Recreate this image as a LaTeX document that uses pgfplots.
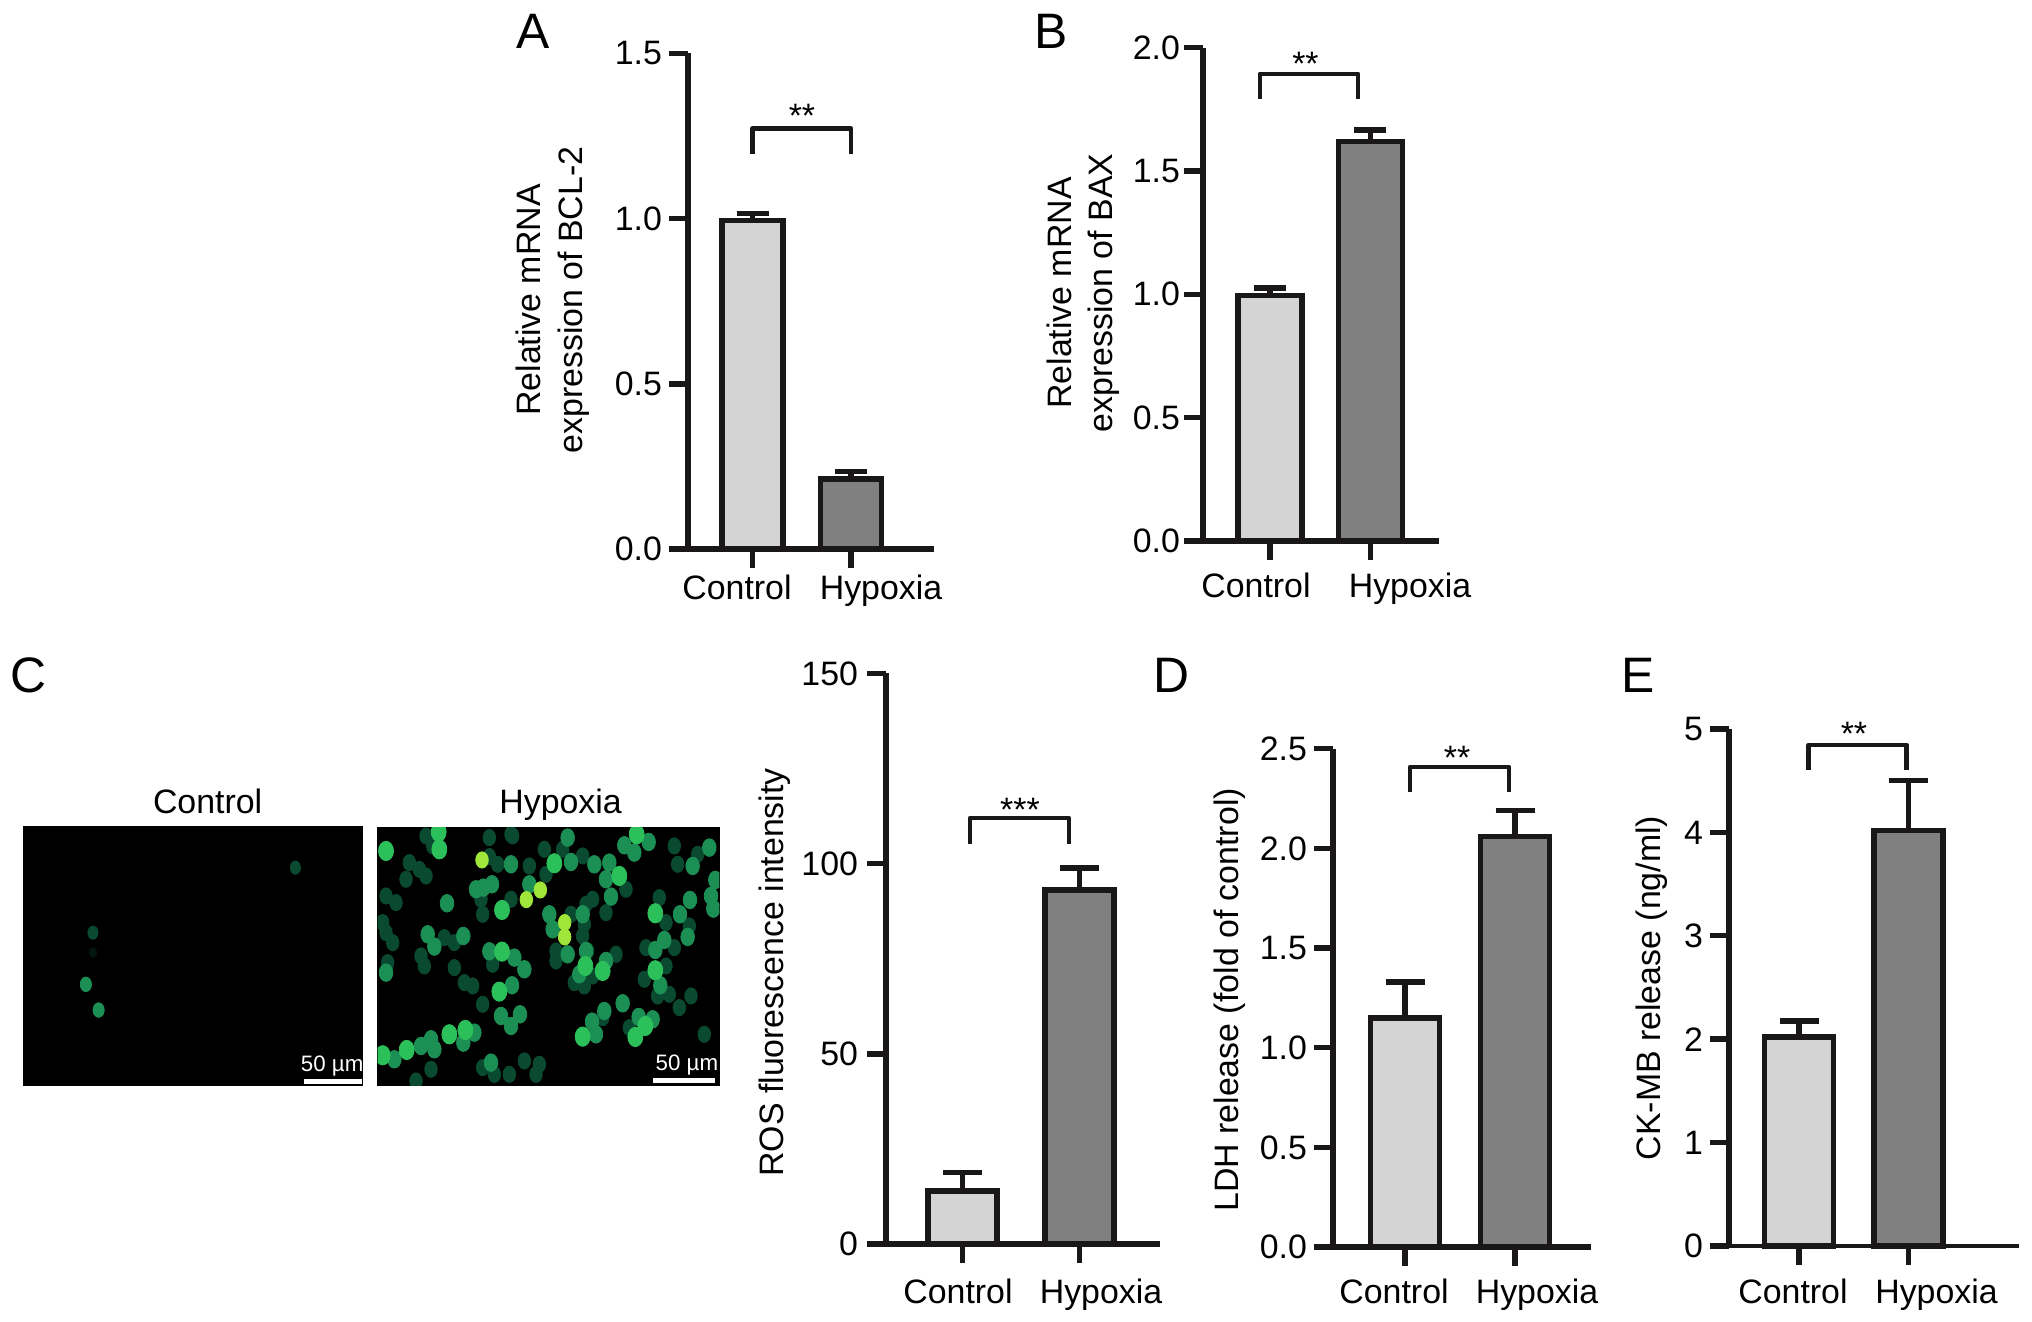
\documentclass[border=0pt]{standalone}
\usepackage{pgfplots}
\pgfplotsset{compat=1.18}
\usepackage{fontspec}
\setmainfont{Liberation Sans}
\definecolor{ink}{HTML}{1A1718}
\definecolor{cl}{HTML}{D4D4D4}
\definecolor{cd}{HTML}{808080}
\definecolor{gdim}{HTML}{0A4A30}
\definecolor{gmed}{HTML}{1C8F55}
\definecolor{gbri}{HTML}{2CC05A}
\definecolor{gyel}{HTML}{9FE53A}
\newcommand\fs{\fontsize{17}{20.7}\selectfont}
\newcommand\sh[2]{\makebox[0pt]{\hspace*{\dimexpr 2\dimexpr #1\relax\relax}#2}}
\pgfplotsset{
 panel/.style={scale only axis, anchor=south west, axis x line=bottom, axis y line=left,
   axis line style={-,line width=2.7bp,color=ink}, x axis line style={line width=3.2bp},
   major tick style={line width=2.7bp,color=ink},
   major tick length=9.5bp, tick align=outside, xtick={0,1}, ymin=0, clip=false,
   tick label style={font=\fs}, label style={font=\fs,align=center,anchor=center},
   /pgf/number format/assume math mode=true},
 dec1/.style={yticklabel style={/pgf/number format/fixed,/pgf/number format/fixed zerofill,/pgf/number format/precision=1}},
 bar/.style n args={3}{ybar, bar shift=0pt, bar width=#2, fill=#1, draw=ink, line width=2.8bp,
   error bars/.cd, y dir=plus, y explicit,
   error bar style={line width=2.7bp,color=ink},
   error mark options={rotate=90,mark size=#3,line width=2.7bp,color=ink}},
 brk/.style={no markers, line width=2.4bp, color=ink, line join=round},
 img/.style={scale only axis, anchor=south west, xtick=\empty, ytick=\empty, y dir=reverse,
   axis line style={draw=black}, axis background/.style={fill=black}, clip marker paths=true},
 cell/.style={only marks, mark=*, mark size=#1, mark options={draw=none, xscale=.85, yscale=1.1}},
}
\begin{document}
\begin{tikzpicture}
\path[use as bounding box] (0,0) rectangle (1016bp,661bp);

% Panel A
\begin{axis}[panel,dec1,at={(344bp,386.5bp)},width=123bp,height=247.75bp,
  xmin=-0.655,xmax=1.843,ymax=1.5,ytick={0,0.5,1,1.5},
  xticklabels={\sh{-7.75bp}{Control},\sh{15bp}{Hypoxia}},
  xticklabel style={anchor=base,yshift=-16bp},
  ylabel={Relative mRNA\\expression of BCL-2},
  ylabel style={at={(axis description cs:-0.55,0.5025)}}]
\addplot[bar={cl}{30.5bp}{8bp}] coordinates {(0,0.995) +- (0,0.02)};
\addplot[bar={cd}{30.5bp}{8bp}] coordinates {(1,0.212) +- (0,0.022)};
\addplot[brk] coordinates {(0,1.196) (0,1.272) (1,1.272) (1,1.196)};
\node[font=\fs,anchor=base,yshift=0.5bp] at (axis cs:0.5025,1.272) {**};
\end{axis}

% Panel B
\begin{axis}[panel,dec1,at={(601.5bp,390.5bp)},width=118bp,height=246.7bp,
  xmin=-0.667,xmax=1.682,ymax=2,ytick={0,0.5,1,1.5,2},
  yticklabel style={xshift=1.5bp},
  xticklabels={\sh{-7bp}{Control},\sh{19.75bp}{Hypoxia}},
  xticklabel style={anchor=base,yshift=-19bp},
  ylabel={Relative mRNA\\expression of BAX},
  ylabel style={at={(axis description cs:-0.508,0.5026)}}]
\addplot[bar={cl}{32bp}{8bp}] coordinates {(0,0.995) +- (0,0.03)};
\addplot[bar={cd}{32bp}{8bp}] coordinates {(1,1.62) +- (0,0.046)};
\addplot[brk] coordinates {(-0.1,1.792) (-0.1,1.893) (0.876,1.893) (0.876,1.792)};
\node[font=\fs,anchor=base,yshift=-1bp] at (axis cs:0.353,1.893) {**};
\end{axis}

% Panel C micrographs
\begin{axis}[img,at={(11.8bp,118.15bp)},width=169.4bp,height=129.5bp,
  xmin=50,xmax=768,ymin=560,ymax=1337]
\addplot[cell=3bp,color=gdim,fill=gdim] coordinates {(626,683) (197,878)};
\addplot[cell=2.2bp,color=black!70!gdim,fill=black!70!gdim] coordinates {(197,938)};
\addplot[cell=3.3bp,color=gmed,fill=gmed] coordinates {(182,1033) (209,1110)};
\addplot[no markers,color=white,line width=2.5bp] coordinates {(645,1325) (768,1325)};
\node[text=white,font=\fontsize{11.2}{13}\selectfont,anchor=base west,inner sep=0pt] at (axis cs:637,1295) {50 µm};
\end{axis}
\begin{axis}[img,at={(188.85bp,118.35bp)},width=170.8bp,height=129bp,
  xmin=5,xmax=1030,ymin=4,ymax=778]
\addplot[cell=3.7bp,color=gdim,fill=gdim] coordinates {
(340,35) (405,25) (505,70) (620,90) (560,70) (365,115) (460,120) (510,145) (340,92) (315,220)
(405,220) (320,265) (630,235) (650,220) (585,265) (625,295) (620,330) (540,375) (540,405) (635,375)
(720,385) (650,450) (595,470) (625,480) (895,60) (905,115) (965,85) (850,215) (870,290) (895,365)
(940,300) (810,365) (870,420) (805,460) (880,505) (845,510) (910,545) (945,510) (680,575) (760,605)
(985,625) (445,705) (490,715) (480,745) (320,725) (355,745) (165,730) (120,765) (400,745) (205,335)
(235,350) (135,390) (145,420) (235,425) (265,470) (290,480) (320,535) (350,415) (30,320) (50,350)
(20,290) (30,210) (60,230) (35,410) (100,110) (130,130) (90,160) (150,150) (170,60) (150,30)
(410,30) (690,260) (750,190)};
\addplot[cell=4bp,color=gmed,fill=gmed] coordinates {
(818,48) (745,58) (700,110) (950,120) (1000,65) (1018,162) (1005,210) (1012,248) (912,265) (942,222)
(865,342) (935,333) (690,405) (610,445) (575,385) (520,265) (530,310) (585,108) (322,185) (300,190)
(415,395) (340,376) (408,478) (445,430) (432,565) (405,600) (375,570) (295,620) (262,650) (165,640)
(135,660) (55,700) (345,710) (175,362) (155,325) (262,330) (213,232) (30,440) (575,35) (655,115)
(690,160) (705,212) (620,265) (630,375) (853,478) (838,372) (788,573) (830,580) (648,587) (660,625)
(685,555) (740,532) (775,80) (348,175) (460,175) (405,115) (175,670)};
\addplot[cell=4.4bp,color=gbri,fill=gbri] coordinates {
(30,75) (188,18) (190,70) (378,377) (378,252) (628,420) (680,435) (268,612) (220,625) (92,672)
(20,688) (778,633) (808,600) (730,150) (782,25) (838,433) (838,262) (535,112) (370,497) (620,632)};
\addplot[cell=3.7bp,color=gyel,fill=gyel] coordinates {
(318,102) (451,221) (493,192) (566,290) (566,333)};
\addplot[no markers,color=white,line width=2.5bp] coordinates {(832,765) (1018,765)};
\node[text=white,font=\fontsize{11.2}{13}\selectfont,anchor=base west,inner sep=0pt] at (axis cs:838,733) {50 µm};
\end{axis}
\node[font=\fs,anchor=base] at (103.8bp,254bp) {Control};
\node[font=\fs,anchor=base] at (280.3bp,254bp) {Hypoxia};

% Panel C bars
\begin{axis}[panel,at={(443bp,39bp)},width=137bp,height=285.25bp,
  xmin=-0.654,xmax=1.688,ymax=150,ytick={0,50,100,150},
  yticklabel style={xshift=-1bp},
  xticklabels={\sh{-2.25bp}{Control},\sh{10.75bp}{Hypoxia}},
  xticklabel style={anchor=base,yshift=-20bp},
  ylabel={ROS fluorescence intensity},
  ylabel style={at={(axis description cs:-0.406,0.476)}}]
\addplot[bar={cl}{34.5bp}{9.75bp}] coordinates {(0,13.9) +- (0,4.9)};
\addplot[bar={cd}{34.5bp}{9.75bp}] coordinates {(1,93.0) +- (0,5.9)};
\addplot[brk] coordinates {(0.064,105.3) (0.064,112) (0.91,112) (0.91,105.3)};
\node[font=\fs,anchor=base,yshift=-1.5bp] at (axis cs:0.491,112) {***};
\end{axis}

% Panel D
\begin{axis}[panel,dec1,at={(666.5bp,37.5bp)},width=129bp,height=249.15bp,
  xmin=-0.655,xmax=1.691,ymax=2.5,ytick={0,0.5,1,1.5,2,2.5},
  xticklabels={\sh{-5.5bp}{Control},\sh{11bp}{Hypoxia}},
  xticklabel style={anchor=base,yshift=-18.5bp},
  ylabel={LDH release (fold of control)},
  ylabel style={at={(axis description cs:-0.399,0.496)}}]
\addplot[bar={cl}{34.5bp}{9.75bp}] coordinates {(0,1.15) +- (0,0.18)};
\addplot[bar={cd}{34.5bp}{9.75bp}] coordinates {(1,2.06) +- (0,0.13)};
\addplot[brk] coordinates {(0.045,2.283) (0.045,2.408) (0.945,2.408) (0.945,2.283)};
\node[font=\fs,anchor=base,yshift=-1bp] at (axis cs:0.473,2.408) {**};
\end{axis}

% Panel E
\begin{axis}[panel,at={(864.5bp,38bp)},width=145bp,height=258.5bp,
  xmin=-0.639,xmax=2.009,ymax=5,ytick={0,1,2,3,4,5},
  x axis line style={line width=1.6bp},
  xticklabels={\sh{-3bp}{Control},\sh{14bp}{Hypoxia}},
  xticklabel style={anchor=base,yshift=-19bp},
  ylabel={CK-MB release (ng/ml)},
  ylabel style={at={(axis description cs:-0.268,0.499)}}]
\addplot[bar={cl}{34.5bp}{9.75bp}] coordinates {(0,2.02) +- (0,0.156)};
\addplot[bar={cd}{34.5bp}{9.75bp}] coordinates {(1,4.02) +- (0,0.48)};
\addplot[brk] coordinates {(0.09,4.6) (0.09,4.845) (0.985,4.845) (0.985,4.6)};
\node[font=\fs,anchor=base] at (axis cs:0.502,4.845) {**};
\end{axis}

% Panel letters
\node[font=\fontsize{25}{30}\selectfont] at (266.5bp,645.5bp) {A};
\node[font=\fontsize{25}{30}\selectfont] at (525.5bp,645.5bp) {B};
\node[font=\fontsize{25}{30}\selectfont] at (14bp,323.5bp) {C};
\node[font=\fontsize{25}{30}\selectfont] at (585.5bp,323.5bp) {D};
\node[font=\fontsize{25}{30}\selectfont] at (819bp,323.5bp) {E};
\end{tikzpicture}
\end{document}
